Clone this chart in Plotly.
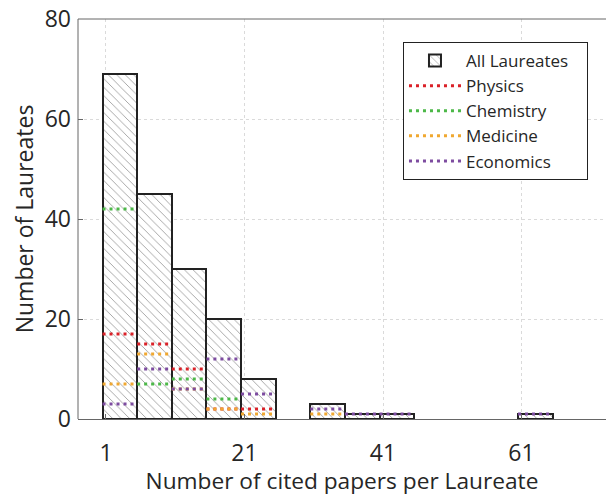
import plotly.graph_objects as go

# Histogram bins: lower integer of each 5-wide bin
bin_starts = [1, 6, 11, 16, 21, 26, 31, 36, 41, 46, 51, 56, 61]
bin_width = 5
all_laureates = [69, 45, 30, 20, 8, 0, 3, 1, 1, 0, 0, 0, 1]
physics = [17, 15, 10, 2, 2, 0, 0, 0, 0, 0, 0, 0, 0]
chemistry = [42, 7, 8, 4, 0, 0, 0, 0, 0, 0, 0, 0, 0]
medicine = [7, 13, 6, 2, 1, 0, 1, 0, 0, 0, 0, 0, 0]
economics = [3, 10, 6, 12, 5, 0, 2, 1, 1, 0, 0, 0, 1]

x_ticks = [1, 21, 41, 61]
y_ticks = [0, 20, 40, 60, 80]

series = [
    ("Physics", physics, "#DA2128"),
    ("Chemistry", chemistry, "#4CB848"),
    ("Medicine", medicine, "#F0A830"),
    ("Economics", economics, "#7D4CA0"),
]

FONT = "Open Sans"
PAD = "\u00a0" * 3
AXIS_COLOR = "#666666"
fig = go.Figure()

bx = [s - 0.5 + bin_width / 2 for s, v in zip(bin_starts, all_laureates) if v > 0]
by = [v for v in all_laureates if v > 0]
fig.add_trace(go.Bar(
    x=bx, y=by, width=bin_width, name="All Laureates" + PAD,
    marker=dict(color="white", line=dict(color="#222222", width=2),
                pattern=dict(shape="\\", fgcolor="#333333", bgcolor="white",
                             size=6, solidity=0.14)),
))

for name, vals, col in series:
    xs, ys = [], []
    for s, v in zip(bin_starts, vals):
        if v > 0:
            xs += [s - 0.5, s - 0.5 + bin_width, None]
            ys += [v, v, None]
    fig.add_trace(go.Scatter(
        x=xs, y=ys, mode="lines", name=name,
        line=dict(color=col, width=3, dash="3px,4px"),
    ))

# left and top frame edges of the axes box
fig.add_shape(type="line", xref="paper", yref="paper", x0=0, x1=0, y0=0, y1=1,
              line=dict(color=AXIS_COLOR, width=1), layer="above")
fig.add_shape(type="line", xref="paper", yref="paper", x0=0, x1=1, y0=1, y1=1,
              line=dict(color=AXIS_COLOR, width=1), layer="above")

fig.update_layout(
    width=606, height=496,
    margin=dict(l=78, r=0, t=19, b=77),
    plot_bgcolor="white", paper_bgcolor="white",
    font=dict(family=FONT, size=22, color="#262626"),
    bargap=0,
    showlegend=True,
    legend=dict(x=0.6155, y=0.9425, xanchor="left", yanchor="top",
                bgcolor="white", bordercolor="#222222", borderwidth=1,
                font=dict(family=FONT, size=17, color="#262626"),
                tracegroupgap=0, itemwidth=52),
    xaxis=dict(range=[-3.04, 73.2], tickvals=x_ticks, ticktext=[str(t) for t in x_ticks],
               showline=True, linecolor=AXIS_COLOR, linewidth=1, mirror=False,
               ticks="outside", ticklen=13, tickcolor="rgba(0,0,0,0)",
               minor=dict(tickvals=x_ticks, ticks="inside", ticklen=5,
                          tickcolor=AXIS_COLOR, showgrid=False),
               showgrid=True, gridcolor="#dadada", griddash="dot", gridwidth=1,
               zeroline=False, automargin=False, ticklabeloverflow="allow",
               title=dict(text="Number of cited papers per Laureate", standoff=10,
                          font=dict(size=22.7)),
               tickfont=dict(size=23)),
    yaxis=dict(range=[0, 80], tickvals=y_ticks,
               ticktext=[f"{t}\u00a0" for t in y_ticks],
               showline=False,
               ticks="inside", ticklen=5, tickcolor=AXIS_COLOR,
               showgrid=True, gridcolor="#dadada", griddash="dot", gridwidth=1,
               zeroline=False, automargin=False, ticklabeloverflow="allow",
               title=dict(text="Number of Laureates", standoff=4, font=dict(size=23)),
               tickfont=dict(size=23)),
)

fig.write_html("out.html", config={"displayModeBar": False},
               post_script="document.body.style.margin='0';document.body.style.overflow='hidden';")
